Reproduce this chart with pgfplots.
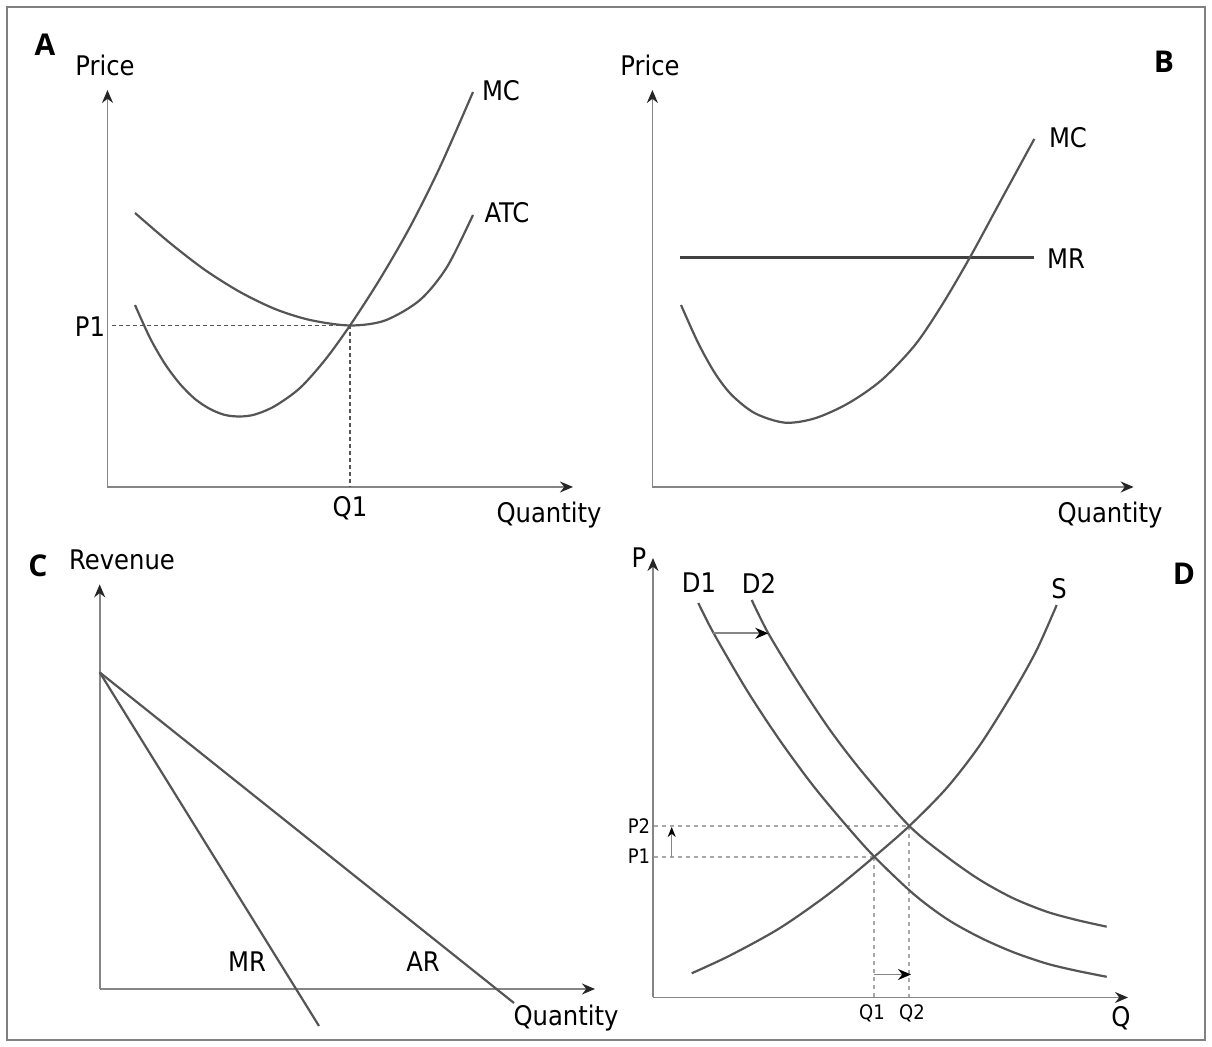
\documentclass[border=0pt]{standalone}
\usepackage{fontspec}
\setmainfont{DejaVu Sans Condensed}
\newfontfamily\panelfont{Open Sans}
\usepackage{pgfplots}
\pgfplotsset{compat=1.18}
\usetikzlibrary{arrows.meta}

\definecolor{curve}{HTML}{555555}
\definecolor{axisgray}{HTML}{858585}
\definecolor{dashgray}{HTML}{A8A8A8}

\newcommand\lab{\fontsize{13.5}{16}\selectfont}
\newcommand\smlab{\fontsize{10}{12}\selectfont}
\newcommand\pan{\panelfont\bfseries\fontsize{15}{18}\selectfont}

\pgfplotsset{econ/.style={
  x=0.5pt, y=0.5pt, anchor=south west,
  axis lines=left,
  axis line style={draw=axisgray, line width=0.9pt, -{Stealth[length=6.5pt,width=5.5pt,color=black!85]}},
  xtick=\empty, ytick=\empty, clip=false, enlargelimits=false,
  every axis plot/.append style={curve, line width=1.1pt, no markers},
}}

\begin{document}
\begin{tikzpicture}
\path (0,0) rectangle (606pt,523.5pt);
\draw[gray, line width=0.6pt] (3.5pt,3.5pt) rectangle (602.5pt,520pt);

% A
\begin{axis}[econ, at={(53.75pt,280pt)}, xmin=107.5, xmax=573, ymin=560, ymax=957]
% ATC
\addplot[curve, smooth] coordinates {(135,834) (170,804) (205,777) (240,755) (275,738) (310,727) (350,721.5) (385,726.5) (420,747) (447,780) (473,832)};
% MC
\addplot[curve, smooth] coordinates {(135,742) (150,709) (165,683) (180,663) (195,648) (210,638) (225,632) (240,630.5) (255,632.5) (275,641) (300,659) (325,687) (350,721.5) (380,768) (410,820) (440,880) (473,955)};
\addplot[curve, line width=0.7pt, dash pattern=on 2pt off 1.5pt] coordinates {(112,721.5) (350,721.5)};
\addplot[curve, line width=0.7pt, dash pattern=on 2pt off 1.5pt] coordinates {(350,721.5) (350,560)};
\node[font=\pan] at (axis cs:45,1002) {A};
\node[font=\lab] at (axis cs:105,982) {Price};
\node[font=\lab] at (axis cs:501,956) {MC};
\node[font=\lab] at (axis cs:507,834) {ATC};
\node[font=\lab] at (axis cs:90,720) {P1};
\node[font=\lab] at (axis cs:350,539) {Q1};
\node[font=\lab] at (axis cs:549,532) {Quantity};
\end{axis}

% B
\begin{axis}[econ, at={(326.2pt,280pt)}, xmin=652.4, xmax=1133.6, ymin=560, ymax=957]
\addplot[color=black!75, line width=1.7pt] coordinates {(680,789.7) (1034.3,789.7)};
\addplot[curve, smooth] coordinates {(681,742) (698.3,703.7) (715,673.7) (731.7,652) (755,633.7) (785,624.3) (815,628.7) (848.3,643.7) (881.7,667) (915,702) (942,742) (970,789.7) (1000,845) (1034.3,908)};
\node[font=\lab] at (axis cs:650,982) {Price};
\node[font=\pan] at (axis cs:1164,985) {B};
\node[font=\lab] at (axis cs:1068,909) {MC};
\node[font=\lab] at (axis cs:1066,788) {MR};
\node[font=\lab] at (axis cs:1110,532) {Quantity};
\end{axis}

% C
\begin{axis}[econ, at={(49.85pt,29pt)}, xmin=99.7, xmax=595, ymin=58, ymax=462.6]
\addplot[curve] coordinates {(99.7,374.6) (514,44)};
\addplot[curve] coordinates {(99.7,374.6) (319,21)};
\node[font=\pan] at (axis cs:38,481) {C};
\node[font=\lab] at (axis cs:122,487) {Revenue};
\node[font=\lab] at (axis cs:247,85) {MR};
\node[font=\lab] at (axis cs:423,85) {AR};
\node[font=\lab] at (axis cs:566,29) {Quantity};
\end{axis}

% D
\begin{axis}[econ, at={(326.5pt,24.75pt)}, xmin=653, xmax=1128, ymin=49.5, ymax=489]
\addplot[dashgray, line width=0.9pt, dash pattern=on 2pt off 2pt] coordinates {(654,221) (909.3,221)};
\addplot[dashgray, line width=0.9pt, dash pattern=on 2pt off 2pt] coordinates {(654,190.3) (874.3,190.3)};
\addplot[dashgray, line width=0.9pt, dash pattern=on 2pt off 2pt] coordinates {(874.3,190.3) (874.3,49.5)};
\addplot[dashgray, line width=0.9pt, dash pattern=on 2pt off 2pt] coordinates {(909.3,221) (909.3,49.5)};
% D1
\addplot[curve, smooth] coordinates {(698.3,444) (713.3,414.4) (746.7,357) (780,306.4) (813.3,261.1) (846.7,221) (874.3,190.3) (913.3,153.2) (946.7,128.1) (980,109.5) (1013.3,94.8) (1046.7,83.4) (1076.7,76.2) (1106.7,70.2)};
% D2
\addplot[curve, smooth] coordinates {(751.7,447) (768.3,413.7) (796.7,367) (830,317) (863.3,273.7) (909.3,221) (946.7,190.3) (980,167) (1013.3,148.7) (1046.7,135.3) (1076.7,127) (1106.7,120.3)};
% S
\addplot[curve, smooth] coordinates {(691.7,73.7) (730,91.5) (780,119) (830,154) (874.3,190.3) (909.3,221) (946.7,259) (980,302) (1013.3,355) (1036.7,397) (1056.7,442)};
\addplot[axisgray, line width=0.9pt, -{Stealth[length=6.5pt,width=5.5pt,color=black]}] coordinates {(713.3,413.7) (768.3,413.7)};
\addplot[axisgray, line width=0.9pt, -{Stealth[length=6.5pt,width=5.5pt,color=black]}] coordinates {(874.3,72.5) (911,72.5)};
\addplot[axisgray, line width=0.6pt, -{Stealth[length=5pt,width=4pt,color=black]}] coordinates {(671.7,190.3) (671.7,220)};
\node[font=\lab] at (axis cs:639,489) {P};
\node[font=\lab] at (axis cs:1121,29) {Q};
\node[font=\pan] at (axis cs:1184,473) {D};
\node[font=\lab] at (axis cs:699,464) {D1};
\node[font=\lab] at (axis cs:759,464) {D2};
\node[font=\lab] at (axis cs:1059,458) {S};
\node[font=\smlab] at (axis cs:639,221) {P2};
\node[font=\smlab] at (axis cs:639,190.3) {P1};
\node[font=\smlab] at (axis cs:872,34) {Q1};
\node[font=\smlab] at (axis cs:912,34) {Q2};
\end{axis}
\end{tikzpicture}
\end{document}
